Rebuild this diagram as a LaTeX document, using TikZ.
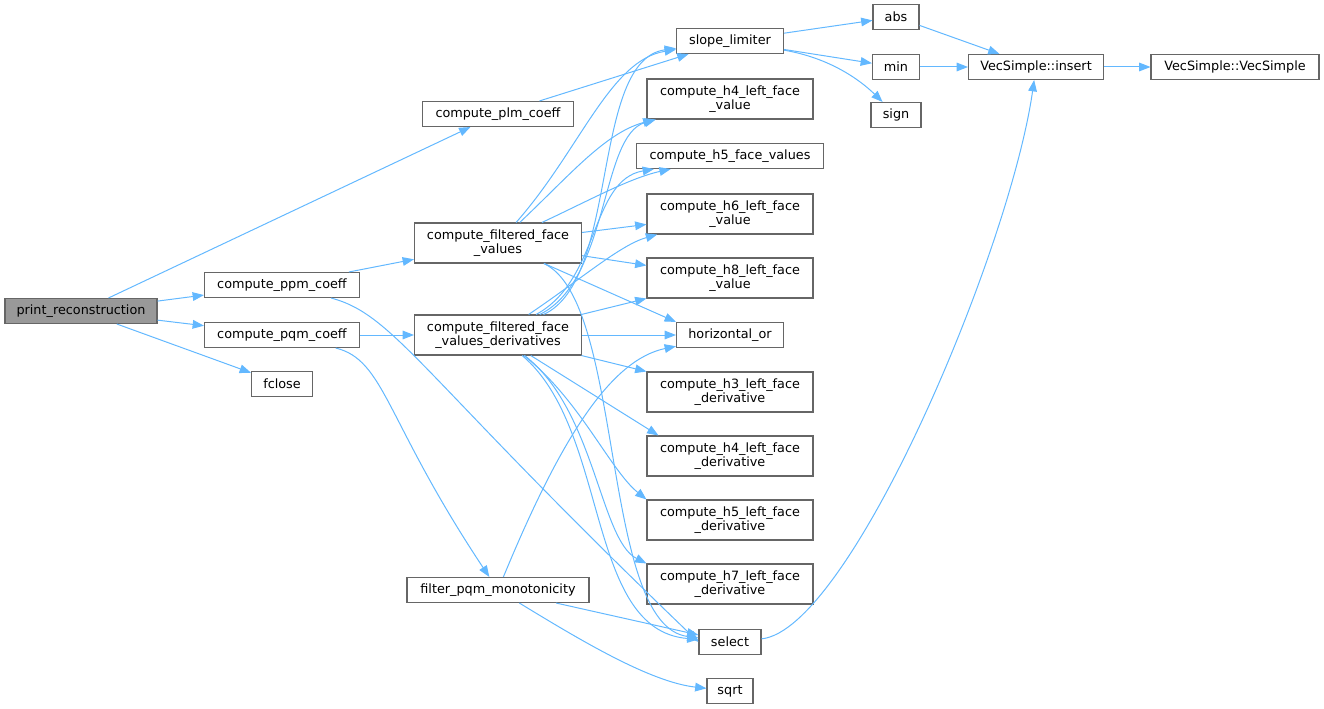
\documentclass[tikz,border=0pt]{standalone}
\usepackage{fontspec}
\setmainfont{DejaVu Sans}
\usetikzlibrary{arrows.meta,calc}
\definecolor{edgeblue}{HTML}{63B8FF}
\definecolor{boxline}{HTML}{666666}
\definecolor{rootfill}{HTML}{999999}
\tikzset{>={Triangle[length=8.5pt,width=6.5pt]}}
\tikzset{
	fn/.style={draw=boxline, line width=0.8pt, fill=white, inner sep=0pt,
			minimum height=18.75pt, font=\fontsize{9.6}{10.8}\selectfont, align=center},
	fn2/.style={fn, minimum height=30pt},
	call/.style={->, edgeblue, line width=0.75pt}
}

\begin{document}
\begin{tikzpicture}[x=0.75pt,y=-0.75pt]
	\useasboundingbox (0,0) rectangle (1324,709);

	\node[fn, fill=rootfill, minimum width=114pt] (pr) at (81,311) {print\_reconstruction};

	\node[fn, minimum width=113.25pt] (plm) at (498,114) {compute\_plm\_coeff};
	\node[fn, minimum width=116.25pt] (ppm) at (282,285) {compute\_ppm\_coeff};
	\node[fn, minimum width=116.25pt] (pqm) at (282,335) {compute\_pqm\_coeff};
	\node[fn, minimum width=45.75pt] (fclose) at (282,384) {fclose};

	\node[fn2, minimum width=125.25pt] (cffv) at (498,243) {compute\_filtered\_face\\\_values};
	\node[fn2, minimum width=125.25pt] (cffvd) at (498,335) {compute\_filtered\_face\\\_values\_derivatives};
	\node[fn, minimum width=136.5pt] (fpm) at (498,590) {filter\_pqm\_monotonicity};

	\node[fn, minimum width=80.25pt] (slope) at (730,41) {slope\_limiter};
	\node[fn2, minimum width=124.5pt] (h4v) at (730,99) {compute\_h4\_left\_face\\\_value};
	\node[fn, minimum width=140.25pt] (h5fv) at (730,156) {compute\_h5\_face\_values};
	\node[fn2, minimum width=124.5pt] (h6v) at (730,214) {compute\_h6\_left\_face\\\_value};
	\node[fn2, minimum width=124.5pt] (h8v) at (730,278) {compute\_h8\_left\_face\\\_value};
	\node[fn, minimum width=80.25pt] (hor) at (730,335) {horizontal\_or};
	\node[fn2, minimum width=124.5pt] (h3d) at (730,392) {compute\_h3\_left\_face\\\_derivative};
	\node[fn2, minimum width=124.5pt] (h4d) at (730,456) {compute\_h4\_left\_face\\\_derivative};
	\node[fn2, minimum width=124.5pt] (h5d) at (730,520) {compute\_h5\_left\_face\\\_derivative};
	\node[fn2, minimum width=124.5pt] (h7d) at (730,584) {compute\_h7\_left\_face\\\_derivative};
	\node[fn, minimum width=46.5pt] (select) at (730,642) {select};
	\node[fn, minimum width=34.5pt] (sqrt) at (730,691) {sqrt};

	\node[fn, minimum width=34.5pt] (abs) at (896,17) {abs};
	\node[fn, minimum width=35.25pt] (min) at (896,67) {min};
	\node[fn, minimum width=37.5pt] (sign) at (896,115) {sign};
	\node[fn, minimum width=101.25pt] (ins) at (1036,67) {VecSimple::insert};
	\node[fn, minimum width=126pt] (vec) at (1235,67) {VecSimple::VecSimple};

	\draw[call] (pr) -- (plm);
	\draw[call] (pr) -- (ppm);
	\draw[call] (pr) -- (pqm);
	\draw[call] (pr) -- (fclose);

	\draw[call] (plm) -- (slope);
	\draw[call] (ppm) -- (cffv);
	\draw[call] (ppm) .. controls (395,315) and (420,375) .. (select.west);
	\draw[call] (pqm) -- (cffvd);
	\draw[call] (pqm) .. controls (385,360) and (385,420) .. (fpm);

	\draw[call] (cffv) .. controls (580,150) and (610,60) .. (slope);
	\draw[call] (cffv) .. controls (570,175) and (605,133) .. (h4v);
	\draw[call] (cffv) .. controls (590,200) and (630,178) .. (h5fv);
	\draw[call] (cffv) -- (h6v);
	\draw[call] (cffv) -- (h8v);
	\draw[call] (cffv) -- (hor.north west);
	\draw[call] (cffv) .. controls (625,300) and (600,625) .. (select);

	\draw[call] (cffvd) .. controls (620,280) and (590,60) .. (slope);
	\draw[call] (cffvd) .. controls (610,280) and (600,135) .. (h4v);
	\draw[call] (cffvd) .. controls (600,280) and (590,180) .. (h5fv);
	\draw[call] (cffvd) .. controls (580,280) and (620,245) .. (h6v);
	\draw[call] (cffvd) -- (h8v);
	\draw[call] (cffvd) -- (hor);
	\draw[call] (cffvd) -- (h3d);
	\draw[call] (cffvd) -- ($(h4d.north west)+(12,0)$);
	\draw[call] (cffvd) .. controls (580,400) and (610,470) .. (h5d.north west);
	\draw[call] (cffvd) .. controls (595,410) and (600,540) .. (h7d.north west);
	\draw[call] (cffvd) .. controls (610,430) and (585,630) .. (select);

	\draw[call] (fpm) .. controls (560,440) and (610,360) .. (hor);
	\draw[call] (fpm) -- (select);
	\draw[call] (fpm) .. controls (580,640) and (650,682) .. (sqrt);

	\draw[call] (select) .. controls (850,630) and (1010,250) .. (ins);

	\draw[call] (slope) -- (abs);
	\draw[call] (slope) -- (min);
	\draw[call] (slope) .. controls (830,58) and (860,80) .. (sign);
	\draw[call] (abs) -- (ins);
	\draw[call] (min) -- (ins);
	\draw[call] (ins) -- (vec);
\end{tikzpicture}
\end{document}
